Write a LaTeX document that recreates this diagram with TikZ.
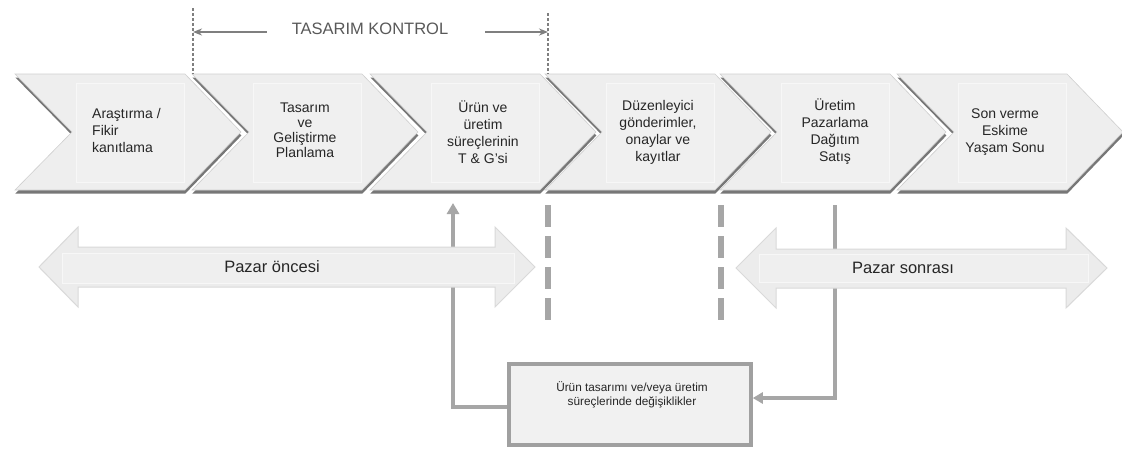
\documentclass[tikz,border=0pt]{standalone}
\usepackage{fontspec}
\setmainfont{Liberation Sans}
\usetikzlibrary{arrows.meta,shadows}

\definecolor{chevfill}{HTML}{EEEEEE}
\definecolor{chevedge}{HTML}{CFCFCF}
\definecolor{panelfill}{HTML}{F0F0F0}
\definecolor{shadowgray}{HTML}{555555}
\definecolor{linegray}{HTML}{A6A6A6}
\definecolor{dimgray}{HTML}{7F7F7F}
\definecolor{txtdark}{HTML}{262626}
\definecolor{dimtext}{HTML}{595959}
\definecolor{arrowfill}{HTML}{ECECEC}
\definecolor{arrowedge}{HTML}{D9D9D9}
\definecolor{boxfill}{HTML}{F1F1F1}
\definecolor{boxedge}{HTML}{A0A0A0}

\tikzset{
  chevronshape/.style={fill=chevfill, draw=chevedge, line width=0.6pt,
    drop shadow={shadow xshift=0.4pt, shadow yshift=-3.5pt, fill=shadowgray, opacity=0.8}},
  innerpanel/.style={fill=panelfill, draw=white!55!chevfill, line width=0.8pt},
  steptext/.style={text=txtdark, font=\fontsize{14}{17}\selectfont, align=center, inner sep=0pt},
  dimline/.style={draw=dimgray, line width=1.1pt, dash pattern=on 3pt off 2pt},
  dimarrow/.style={draw=dimgray, line width=1.5pt, -{Stealth[length=9pt,width=7pt]}},
  dimlabel/.style={text=dimtext, font=\fontsize{16.5}{19}\selectfont, inner sep=0pt},
  phasearrow/.style={fill=arrowfill, draw=arrowedge, line width=1pt},
  phasepanel/.style={fill=arrowfill!85!white, draw=white!60!arrowfill, line width=0.8pt},
  phasetext/.style={text=txtdark, font=\fontsize{16.5}{19}\selectfont, inner sep=0pt},
  sepline/.style={draw=linegray, line width=5.5pt, dash pattern=on 22pt off 9pt},
  fbline/.style={draw=linegray, line width=3.5pt},
  changebox/.style={draw=boxedge, line width=3.5pt, fill=boxfill,
    minimum width=242pt, minimum height=81pt, inner sep=0pt},
  boxtext/.style={text=txtdark, font=\fontsize{11.8}{14}\selectfont, align=center, inner sep=0pt}
}

\begin{document}
\begin{tikzpicture}[x=1pt,y=-1pt]
\useasboundingbox[fill=white] (0,0) rectangle (1122,448);

% process chevrons
\foreach \xo in {15,192,370,545,720,897}{
  \begin{scope}[xshift=\xo pt]
    \path[chevronshape] (0,74) -- (170,74) -- (226,132) -- (170,190) -- (0,190) -- (57,132) -- cycle;
    \path[innerpanel] (61,83) rectangle (169,182);
  \end{scope}
}

% chevron labels
\node[steptext, align=left, anchor=west] (s1) at (92,130) {Araştırma /\\Fikir\\kanıtlama};
\node[steptext, font=\fontsize{14}{15}\selectfont] (s2) at (305,130) {Tasarım\\ve\\Geliştirme\\Planlama};
\node[steptext] (s3) at (483,132) {Ürün ve\\üretim\\süreçlerinin\\T \& G{\char"0027}si};
\node[steptext] (s4) at (658,132) {Düzenleyici\\gönderimler,\\onaylar ve\\kayıtlar};
\node[steptext] (s5) at (835,132) {Üretim\\Pazarlama\\Dağıtım\\Satış};
\node[steptext] (s6) at (1005,132) {Son verme\\Eskime\\Yaşam Sonu};

% design control span
\coordinate (dlTop) at (193,8);
\coordinate (dlBot) at (193,74);
\coordinate (drTop) at (548,13);
\coordinate (drBot) at (548,74);
\coordinate (dimL) at (193,32);
\coordinate (dimR) at (548,32);
\path[dimline] (dlTop) -- (dlBot);
\path[dimline] (drTop) -- (drBot);
\node[dimlabel] (tk) at (370,29) {TASARIM KONTROL};
\path[dimarrow] ([xshift=-25pt]tk.west |- dimL) -- (dimL);
\path[dimarrow] ([xshift=37pt]tk.east |- dimR) -- (dimR);

% change box
\node[changebox] (chg) at (630,404.5) {};
\node[boxtext] (chgtext) at (632,395) {Ürün tasarımı ve/veya üretim\\süreçlerinde değişiklikler};

% feedback connectors (behind the phase arrows)
\coordinate (up3) at (453,203);
\coordinate (dn5) at (835,205);
\path[fbline, -{Triangle[length=11pt,width=12pt]}] ([yshift=-2.5pt]chg.west) -| (up3);
\path[fbline, -{Triangle[length=10pt,width=11pt]}] (dn5) |- ([yshift=6.5pt]chg.east);

% market phases
\path[phasearrow] (39,267) -- (78,227) -- (78,247) -- (495,247) -- (495,227) -- (535,267)
  -- (495,307) -- (495,287) -- (78,287) -- (78,307) -- cycle;
\path[phasepanel] (62,253) rectangle (514,283);
\node[phasetext] (pre) at (272,267) {Pazar öncesi};

\path[phasearrow] (736,268) -- (776,228) -- (776,249) -- (1066,249) -- (1066,228) -- (1107,268)
  -- (1066,308) -- (1066,288) -- (776,288) -- (776,308) -- cycle;
\path[phasepanel] (759,254) rectangle (1088,282);
\node[phasetext] (post) at (903,268) {Pazar sonrası};

% phase separators
\coordinate (sepAtop) at (548,205);
\coordinate (sepAbot) at (548,321);
\coordinate (sepBtop) at (721,205);
\coordinate (sepBbot) at (721,321);
\path[sepline] (sepAtop) -- (sepAbot);
\path[sepline] (sepBtop) -- (sepBbot);
\end{tikzpicture}
\end{document}
